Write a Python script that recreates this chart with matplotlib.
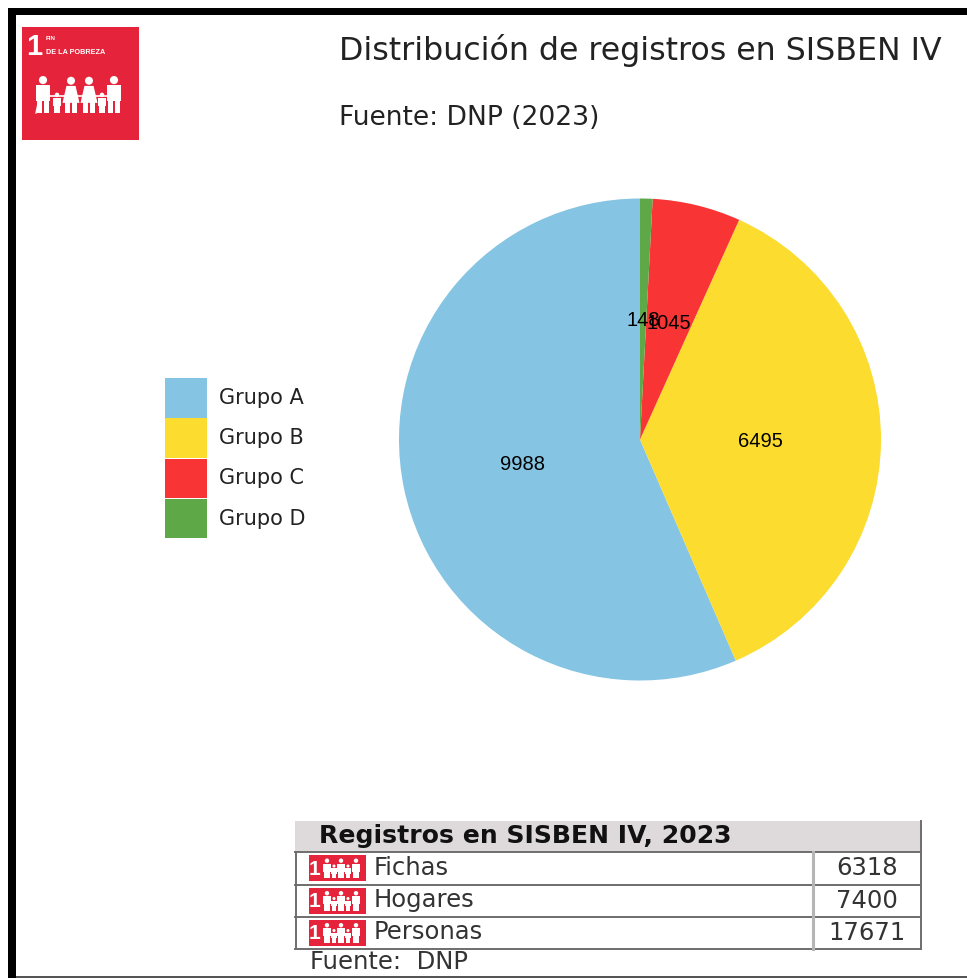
"""Distribucion de registros en SISBEN IV, pie chart with summary table."""
import matplotlib.pyplot as plt
from matplotlib.patches import Circle, Polygon, Rectangle

WIDTH, HEIGHT = 967, 979

groups = ['Grupo A', 'Grupo B', 'Grupo C', 'Grupo D']
group_values = [9988, 6495, 1045, 148]
group_colors = ['#85C4E2', '#FCDC2E', '#F93434', '#5FA847']

table_title = 'Registros en SISBEN IV, 2023'
table_rows = ['Fichas', 'Hogares', 'Personas']
table_values = [6318, 7400, 17671]

SDG_RED = '#E5243B'
TEXT = '#222222'
GRID = '#6E6E6E'


# .....................................................................................
def draw_person(ax, x, base, height, dress=False, zorder=5):
    """Draw a small white pictogram person standing on base."""
    width = height * 0.36
    head = height * 0.11
    ax.add_patch(Circle((x, base - height + head), head, fc='white', ec='none', zorder=zorder))
    top = base - height + 2.3 * head
    if dress:
        ax.add_patch(Polygon(
            [(x - width * 0.35, top), (x + width * 0.35, top),
             (x + width * 0.65, base - height * 0.28), (x - width * 0.65, base - height * 0.28)],
            fc='white', ec='none', zorder=zorder))
    else:
        ax.add_patch(Rectangle(
            (x - width / 2, top), width, height * 0.42, fc='white', ec='none', zorder=zorder))
    for leg in (-1, 1):
        ax.add_patch(Rectangle(
            (x + leg * width * 0.24 - width * 0.2, base - height * 0.45),
            width * 0.4, height * 0.45, fc='white', ec='none', zorder=zorder))


# .....................................................................................
def draw_family(ax, left, base, scale):
    """Draw the family of six from the SDG 1 logo."""
    members = [(0, 1.0, False), (14, 0.55, False), (28, 0.98, True),
              (46, 0.98, True), (59, 0.55, False), (71, 1.0, False)]
    for offset, size, dress in members:
        draw_person(ax, left + offset * scale, base, 37 * scale * size, dress)
    # joined hands and the cane of the grandfather
    ax.plot([left, left + 71 * scale], [base - 17 * scale] * 2, color='white', lw=1.2, zorder=5)
    ax.plot([left - 7 * scale, left - 4 * scale], [base, base - 14 * scale],
            color='white', lw=1, zorder=5)


def draw_mini_icon(ax, left, top, width, height):
    """Draw the small red icon used in the table rows."""
    ax.add_patch(Rectangle((left, top), width, height, fc=SDG_RED, ec='none', zorder=4))
    ax.text(left + 6, top + height / 2, '1', color='white', fontsize=15, fontweight='bold',
            ha='center', va='center', family='Liberation Sans', zorder=5)
    for offset, size in zip((18, 25, 32, 39, 47), (1.0, 0.7, 1.0, 0.7, 1.0)):
        draw_person(ax, left + offset, top + height - 3, (height - 6) * size, zorder=5)


fig = plt.figure(figsize=(WIDTH / 100, HEIGHT / 100), dpi=100, facecolor='white')

# overlay in pixel coordinates for the frame, logo, legend and table
over = fig.add_axes([0, 0, 1, 1])
over.set_xlim(0, WIDTH)
over.set_ylim(HEIGHT - 1, -1)
over.axis('off')

# frame
over.add_patch(Rectangle((8, 8), WIDTH - 8, 7, fc='black', ec='none'))
over.add_patch(Rectangle((8, 8), 8, HEIGHT - 8, fc='black', ec='none'))
over.add_patch(Rectangle((16, 976), WIDTH - 16, 2, fc='#555555', ec='none'))

# logo
over.add_patch(Rectangle((22, 27), 117, 113, fc=SDG_RED, ec='none'))
over.text(34, 46, '1', color='white', fontsize=21, fontweight='bold',
          ha='center', va='center', family='Liberation Sans')
over.text(46, 38, 'FIN', color='white', fontsize=4.5, fontweight='bold',
          ha='left', va='center', family='Liberation Sans')
over.text(46, 52, 'DE LA POBREZA', color='white', fontsize=5.2, fontweight='bold',
          ha='left', va='center', family='Liberation Sans')
draw_family(over, 43, 113, 1.0)

# titles
over.text(339, 50, 'Distribución de registros en SISBEN IV', fontsize=22.8,
          color=TEXT, ha='left', va='center')
over.text(339, 117, 'Fuente: DNP (2023)', fontsize=19.1, color=TEXT, ha='left', va='center')

# pie
radius = 241
pie_ax = fig.add_axes([
    (640 - radius) / WIDTH, 1 - (440.5 + radius) / HEIGHT,
    2 * radius / WIDTH, 2 * radius / HEIGHT,
])
total = sum(group_values)
wedges, _, value_labels = pie_ax.pie(
    group_values,
    colors=group_colors,
    startangle=90,
    radius=1.0,
    autopct=lambda pct: f'{round(pct * total / 100)}',
    pctdistance=0.5,
    textprops={'fontsize': 14.5, 'color': 'black', 'family': 'Liberation Sans'},
)
pie_ax.set_xlim(-1, 1)
pie_ax.set_ylim(-1, 1)

# legend
for i, (group, color) in enumerate(zip(groups, group_colors)):
    top = 378 + i * 40.25
    over.add_patch(Rectangle((165, top), 42, 39.5, fc=color, ec='none'))
    over.text(219, top + 19, group, fontsize=15, color=TEXT, ha='left', va='center')

# table
row_lines = [852, 885, 917, 949]
over.add_patch(Rectangle((295, 821), 626, 31, fc='#DED9DB', ec='none'))
over.text(319, 835, table_title, fontsize=18.1, fontweight='bold', color='#111111',
          ha='left', va='center')
for y in row_lines:
    over.plot([295, 921], [y, y], color=GRID, lw=1.4)
over.plot([296, 296], [852, 949], color=GRID, lw=1.4)
over.plot([921, 921], [821, 949], color=GRID, lw=1.4)
over.plot([813, 813], [852, 949], color='#B5B5B5', lw=2.2)
for i, (row, value) in enumerate(zip(table_rows, table_values)):
    center = (row_lines[i] + row_lines[i + 1]) / 2
    draw_mini_icon(over, 309, center - 13, 57, 26)
    over.text(374, center - 1.5, row, fontsize=17.5, color='#333333', ha='left', va='center')
    over.text(867, center - 1, str(value), fontsize=17.5, color='#333333', ha='center', va='center')
over.text(310, 961, 'Fuente:  DNP', fontsize=17.5, color='#333333', ha='left', va='center')

fig.savefig('out.png', dpi=100)
